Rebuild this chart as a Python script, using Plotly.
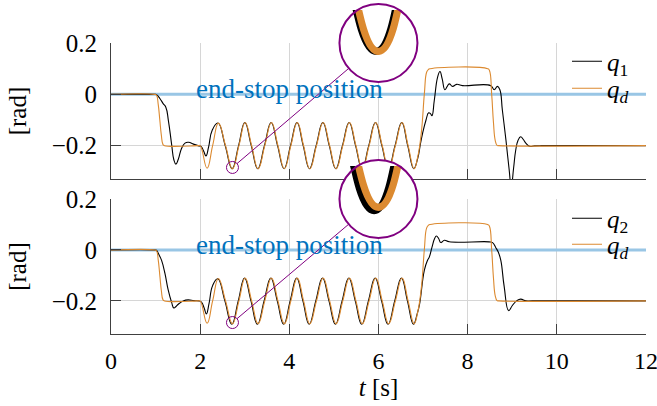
import math
import plotly.graph_objects as go

# ---------------------------------------------------------------------------
# Knots along each curve: time [s] and joint angle [rad]
# ---------------------------------------------------------------------------
# desired trajectory q_d (same reference for both joints)
QD_T = [0.0, 0.98, 1.02, 1.06, 1.095, 1.13, 1.165, 1.20, 1.95,
        2.00, 2.155, 2.28, 2.41, 2.57, 2.725, 2.87, 3.01, 3.155, 3.30, 3.45, 3.60,
        3.745, 3.89, 4.035, 4.18, 4.32, 4.46, 4.61, 4.76, 4.905, 5.05, 5.20, 5.35,
        5.495, 5.64, 5.79, 5.94, 6.085, 6.23, 6.38, 6.53, 6.665, 6.80,
        6.88, 6.96, 7.03, 7.08, 7.12, 7.16, 8.45, 8.49, 8.54, 8.58, 8.62, 8.66, 8.70, 12.0]
QD_V = [0.0, 0.0, -0.003, -0.04, -0.10, -0.16, -0.195, -0.2, -0.2,
        -0.2, -0.288, -0.2, -0.112, -0.2, -0.29, -0.2, -0.11, -0.2, -0.29, -0.2, -0.11,
        -0.2, -0.29, -0.2, -0.11, -0.2, -0.29, -0.2, -0.11, -0.2, -0.29, -0.2, -0.11,
        -0.2, -0.29, -0.2, -0.11, -0.2, -0.29, -0.2, -0.11, -0.2, -0.29,
        -0.245, -0.152, 0.003, 0.086, 0.097, 0.1, 0.1, 0.093, 0.0, -0.11, -0.18, -0.199, -0.2, -0.2]

# joint 1
Q1_T = [0.0, 0.98, 1.02, 1.10, 1.17, 1.23, 1.29, 1.36, 1.41, 1.455, 1.51, 1.58, 1.66, 1.74, 1.85, 1.95,
        2.02, 2.08, 2.13, 2.19, 2.27, 2.40,
        2.562, 2.717, 2.862, 3.002, 3.147, 3.292, 3.442, 3.592, 3.737, 3.882, 4.027, 4.172,
        4.312, 4.452, 4.602, 4.752, 4.897, 5.042, 5.192, 5.342, 5.487, 5.632, 5.782, 5.932,
        6.077, 6.222, 6.372, 6.522, 6.657, 6.792,
        6.88, 6.94, 6.99, 7.067, 7.126, 7.17, 7.20, 7.253, 7.327, 7.38, 7.43, 7.49, 7.54, 7.589, 7.663, 7.753, 7.887,
        8.52, 8.596, 8.67, 8.724, 8.78, 8.86, 8.93, 8.98, 9.03, 9.08, 9.13, 9.19, 9.25, 9.31, 9.40, 9.50, 9.65, 12.0]
Q1_V = [0.0, 0.0, -0.001, -0.017, -0.036, -0.05, -0.105, -0.195, -0.255, -0.272, -0.253, -0.212, -0.19, -0.187, -0.194, -0.2,
        -0.203, -0.222, -0.24, -0.205, -0.14, -0.112,
        -0.2, -0.29, -0.2, -0.11, -0.2, -0.29, -0.2, -0.11, -0.2, -0.29, -0.2, -0.11,
        -0.2, -0.29, -0.2, -0.11, -0.2, -0.29, -0.2, -0.11, -0.2, -0.29, -0.2, -0.11,
        -0.2, -0.29, -0.2, -0.11, -0.2, -0.29,
        -0.25, -0.195, -0.152, -0.10, -0.072, -0.076, -0.083, -0.023, 0.067, 0.089, 0.06, 0.018, 0.03, 0.041, 0.031, 0.039, 0.034,
        0.034, 0.018, 0.031, 0.018, -0.062, -0.178, -0.29, -0.36, -0.29, -0.217, -0.18, -0.165, -0.176, -0.191, -0.203, -0.201, -0.2, -0.2]

# joint 2
Q2_T = [0.0, 0.98, 1.02, 1.08, 1.135, 1.21, 1.28, 1.36, 1.41, 1.46, 1.51, 1.62, 1.73, 1.86, 1.97,
        2.03, 2.09, 2.14, 2.20, 2.28, 2.395,
        2.555, 2.71, 2.855, 2.995, 3.14, 3.285, 3.435, 3.585, 3.73, 3.875, 4.02, 4.165,
        4.305, 4.445, 4.595, 4.745, 4.89, 5.035, 5.185, 5.335, 5.48, 5.625, 5.775, 5.925,
        6.07, 6.215, 6.365, 6.515, 6.65, 6.785,
        6.87, 6.92, 7.03, 7.10, 7.14, 7.20, 7.26, 7.30, 7.35, 7.40, 7.48, 7.59,
        8.48, 8.56, 8.63, 8.69, 8.745, 8.82, 8.92, 9.0, 9.10, 9.19, 9.31, 9.45, 12.0]
Q2_V = [0.0, 0.0, -0.001, -0.02, -0.041, -0.092, -0.155, -0.206, -0.228, -0.222, -0.213, -0.2, -0.196, -0.199, -0.2,
        -0.205, -0.228, -0.251, -0.21, -0.14, -0.113,
        -0.2, -0.292, -0.2, -0.11, -0.2, -0.292, -0.2, -0.11, -0.2, -0.292, -0.2, -0.11,
        -0.2, -0.292, -0.2, -0.11, -0.2, -0.292, -0.2, -0.11, -0.2, -0.292, -0.2, -0.11,
        -0.2, -0.292, -0.2, -0.11, -0.2, -0.292,
        -0.25, -0.215, -0.079, -0.041, -0.028, 0.01, 0.045, 0.055, 0.045, 0.029, 0.038, 0.032,
        0.032, 0.029, 0.01, -0.009, -0.041, -0.143, -0.238, -0.219, -0.2, -0.193, -0.2, -0.2, -0.2]

X_TICKS = [0, 2, 4, 6, 8, 10, 12]
Y_TICKS = [-0.2, 0.0, 0.2]
Y_TICKTEXT = ["\u22120.2", "0", "0.2"]
X_RANGE = [0, 12.002]
Y_RANGE = [-0.33, 0.2002]
END_STOP = 0.0
END_STOP_LABEL = "end-stop position"
END_STOP_LABEL_T = 1.86

# magnifier: small spy circle around one trough, lens centred on the top edge at t = 6 s
SPY_T, SPY_V = 2.725, -0.285
LENS_T, LENS_V = 6.0, 0.2
SPY_R, LENS_R = 6, 39          # radii in px
CLIP_ABOVE = 33                # inset curves stop where they meet the lens rim

# ---------------------------------------------------------------------------
# Styling
# ---------------------------------------------------------------------------
BLACK = "#000000"
ORANGE = "#DC8A30"
LIGHT_BLUE = "#99C6E5"
TEXT_BLUE = "#0072BD"
PURPLE = "#800080"
GRID = "#D6D6D6"
AXIS = "#404040"
SERIF = "Liberation Serif, Times New Roman, serif"
FS = 25
LINE_W = 1.1

W, H = 657, 406
PLOT_L, PLOT_R = 111, 646
ROWS = [(43, 179), (199, 334)]   # pixel top / bottom of each panel
LEGEND_ROWS = [(61, 88), (218, 244)]   # pixel centre of each legend entry
LEGEND_LINE_END = 602


def fx(px):
    return px / W


def fy(py):
    return 1 - py / H


sx = (PLOT_R - PLOT_L) / (X_RANGE[1] - X_RANGE[0])
ZOOM = LENS_R / SPY_R

panels = [
    dict(name="<i>q</i><sub>1</sub>", t=Q1_T, v=Q1_V, legends=("legend", "legend2")),
    dict(name="<i>q</i><sub>2</sub>", t=Q2_T, v=Q2_V, legends=("legend3", "legend4")),
]
QD_NAME = "<i>q</i><sub><i>d</i></sub>"

fig = go.Figure()
layout = {}
shapes = []
annotations = []


def curve(t, v, color, width, xa, ya, **kw):
    return go.Scatter(x=t, y=v, mode="lines",
                      line=dict(color=color, width=width, shape="spline",
                                smoothing=1.3, simplify=False),
                      xaxis=xa, yaxis=ya, hoverinfo="skip", **kw)


font = dict(family=SERIF, size=FS, color="black")
tick_style = dict(showgrid=True, gridcolor=GRID, gridwidth=1, zeroline=False,
                  showline=True, linecolor=AXIS, linewidth=1,
                  ticks="inside", ticklen=10, tickcolor=AXIS, tickwidth=1,
                  automargin=False, ticklabeloverflow="allow")
legend_style = dict(xanchor="left", yanchor="top", bgcolor="rgba(0,0,0,0)",
                    font=dict(family=SERIF, size=FS, color="black"),
                    borderwidth=0, tracegroupgap=0)
LEGEND_TOP_OFFSET = 22.5   # px from legend box top to the centre of its entry

insets = []
for i, (p, (ytop, ybot)) in enumerate(zip(panels, ROWS)):
    n = i + 1
    xa = "x" if n == 1 else f"x{n}"
    ya = "y" if n == 1 else f"y{n}"
    sy = (ybot - ytop) / (Y_RANGE[1] - Y_RANGE[0])

    # main panel
    fig.add_trace(go.Scatter(x=X_RANGE, y=[END_STOP, END_STOP], mode="lines",
                             line=dict(color=LIGHT_BLUE, width=3),
                             xaxis=xa, yaxis=ya, showlegend=False, hoverinfo="skip"))
    fig.add_trace(curve(p["t"], p["v"], BLACK, LINE_W, xa, ya,
                        name=p["name"], legend=p["legends"][0]))
    fig.add_trace(curve(QD_T, QD_V, ORANGE, LINE_W, xa, ya,
                        name=QD_NAME, legend=p["legends"][1]))
    for lg, yc in zip(p["legends"], LEGEND_ROWS[i]):
        layout[lg] = dict(x=fx(LEGEND_LINE_END - 35), y=fy(yc - LEGEND_TOP_OFFSET),
                          **legend_style)

    layout["xaxis" if n == 1 else f"xaxis{n}"] = dict(
        domain=[fx(PLOT_L), fx(PLOT_R)], range=X_RANGE, anchor=ya,
        tickvals=X_TICKS, showticklabels=(n == 2), ticklabelstandoff=5,
        tickfont=dict(family=SERIF, size=24, color="black"),
        title=dict(text="<i>t</i> [s]", font=font, standoff=1) if n == 2 else None,
        **tick_style)
    layout["yaxis" if n == 1 else f"yaxis{n}"] = dict(
        domain=[fy(ybot), fy(ytop)], range=Y_RANGE, anchor=xa,
        tickvals=Y_TICKS, ticktext=Y_TICKTEXT, ticklabelstandoff=8,
        tickfont=font,
        title=dict(text="[rad]", font=font, standoff=17), **tick_style)

    annotations.append(dict(text=END_STOP_LABEL, xref=xa, yref=ya,
                            x=END_STOP_LABEL_T, y=END_STOP, xanchor="left",
                            yanchor="middle", yshift=5, showarrow=False,
                            font=dict(family=SERIF, size=27, color=TEXT_BLUE)))

    # magnifier geometry (pixels)
    cx = PLOT_L + (LENS_T - X_RANGE[0]) * sx
    cy = ytop + (Y_RANGE[1] - LENS_V) * sy
    spx = PLOT_L + (SPY_T - X_RANGE[0]) * sx
    spy = ytop + (Y_RANGE[1] - SPY_V) * sy
    insets.append(dict(cx=cx, cy=cy, spx=spx, spy=spy, sy=sy, p=p, xa=xa, ya=ya))

# white lens discs (one helper subplot each, drawn above both panels)
for j, g in enumerate(insets):
    m = 3 + j
    layout[f"xaxis{m}"] = dict(domain=[fx(g["cx"] - LENS_R), fx(g["cx"] + LENS_R)],
                               range=[-1, 1], visible=False, anchor=f"y{m}")
    layout[f"yaxis{m}"] = dict(domain=[fy(g["cy"] + LENS_R), fy(g["cy"] - LENS_R)],
                               range=[-1, 1], visible=False, anchor=f"x{m}")
    fig.add_trace(go.Scatter(x=[], y=[], xaxis=f"x{m}", yaxis=f"y{m}",
                             showlegend=False, hoverinfo="skip"))
    shapes.append(dict(type="circle", xref=f"x{m}", yref=f"y{m}",
                       x0=-1, x1=1, y0=-1, y1=1, fillcolor="white",
                       line=dict(width=0), layer="below"))

# magnified curves inside the lenses
for j, g in enumerate(insets):
    k = 5 + j
    kx, ky = sx * ZOOM, g["sy"] * ZOOM
    layout[f"xaxis{k}"] = dict(domain=[fx(g["cx"] - LENS_R), fx(g["cx"] + LENS_R)],
                               range=[SPY_T - LENS_R / kx, SPY_T + LENS_R / kx],
                               visible=False, anchor=f"y{k}")
    layout[f"yaxis{k}"] = dict(domain=[fy(g["cy"] + LENS_R), fy(g["cy"] - CLIP_ABOVE)],
                               range=[SPY_V - LENS_R / ky, SPY_V + CLIP_ABOVE / ky],
                               visible=False, anchor=f"x{k}")
    p = g["p"]
    near = [idx for idx, t in enumerate(p["t"]) if abs(t - SPY_T) < 0.6]
    near_d = [idx for idx, t in enumerate(QD_T) if abs(t - SPY_T) < 0.6]
    fig.add_trace(curve([p["t"][a] for a in near], [p["v"][a] for a in near],
                        BLACK, LINE_W * ZOOM, f"x{k}", f"y{k}", showlegend=False))
    fig.add_trace(curve([QD_T[a] for a in near_d], [QD_V[a] for a in near_d],
                        ORANGE, LINE_W * ZOOM, f"x{k}", f"y{k}", showlegend=False))

    # lens rim, spy circle and connector
    shapes.append(dict(type="circle", xref="paper", yref="paper",
                       x0=fx(g["cx"] - LENS_R), x1=fx(g["cx"] + LENS_R),
                       y0=fy(g["cy"] + LENS_R), y1=fy(g["cy"] - LENS_R),
                       line=dict(color=PURPLE, width=2), fillcolor="rgba(0,0,0,0)",
                       layer="above"))
    shapes.append(dict(type="circle", xref=g["xa"], yref=g["ya"],
                       xsizemode="pixel", ysizemode="pixel",
                       xanchor=SPY_T, yanchor=SPY_V,
                       x0=-SPY_R, x1=SPY_R, y0=-SPY_R, y1=SPY_R,
                       line=dict(color=PURPLE, width=1), layer="above"))
    dx, dy = g["cx"] - g["spx"], g["cy"] - g["spy"]
    L = math.hypot(dx, dy)
    ux, uy = dx / L, dy / L
    shapes.append(dict(type="line", xref="paper", yref="paper",
                       x0=fx(g["spx"] + SPY_R * ux), y0=fy(g["spy"] + SPY_R * uy),
                       x1=fx(g["cx"] - LENS_R * ux), y1=fy(g["cy"] - LENS_R * uy),
                       line=dict(color=PURPLE, width=1), layer="above"))

fig.update_layout(
    width=W, height=H, margin=dict(l=0, r=0, t=0, b=0, autoexpand=False),
    paper_bgcolor="white", plot_bgcolor="rgba(0,0,0,0)",
    font=font, shapes=shapes, annotations=annotations,
    **layout,
)

fig.write_html("out.html")
